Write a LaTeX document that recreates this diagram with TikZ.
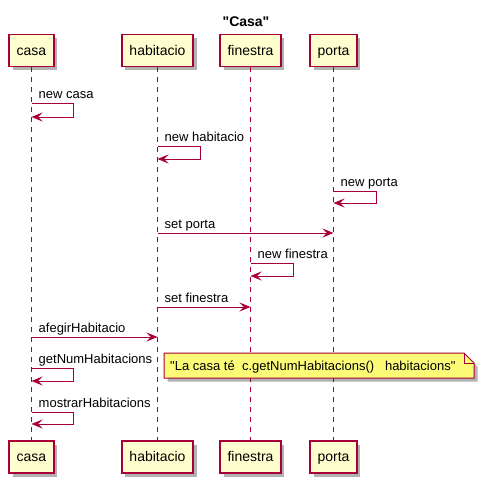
\documentclass[tikz,border=0pt]{standalone}
\usepackage{fontspec}
\setmainfont{Liberation Sans}[Ligatures=TeXOff]
\usetikzlibrary{arrows.meta,shadows}

\definecolor{umlred}{HTML}{A80036}
\definecolor{umlbox}{HTML}{FEFECE}
\definecolor{umlnote}{HTML}{FBFB77}

\begin{document}
\begin{tikzpicture}[x=1pt,y=-1pt,
  actor/.style={draw=umlred,line width=1.5pt,fill=umlbox,minimum height=32pt,
    inner xsep=7.5pt,inner ysep=0pt,text height=11pt,text depth=2pt,
    font=\fontsize{14}{16}\selectfont,
    drop shadow={shadow xshift=3.5pt,shadow yshift=-3.5pt,fill=black,opacity=.3}},
  lifeline/.style={umlred,line width=1pt,dash pattern=on 5pt off 5pt},
  msg/.style={umlred,line width=1pt,-{Stealth[length=11pt,width=9pt,inset=4.5pt]}},
  lbl/.style={anchor=base west,inner sep=0pt,xshift=7pt,yshift=5pt,
    font=\fontsize{13}{15}\selectfont},
  notebox/.style={draw=umlred,line width=1pt,fill=umlnote,
    drop shadow={shadow xshift=3.5pt,shadow yshift=-3.5pt,fill=black,opacity=.3}}]
  \useasboundingbox (0,0) rectangle (485,482);
  % 标题
  \node[font=\bfseries\fontsize{14}{16}\selectfont,anchor=base] (titol) at (246,26) {"Casa"};
  % 上下两排参与者
  \node[actor] (casa) at (31.5,50.5) {casa};
  \node[actor] (habitacio) at (157.5,50.5) {habitacio};
  \node[actor] (finestra) at (250.5,50.5) {finestra};
  \node[actor] (porta) at (333.5,50.5) {porta};
  \node[actor] (casa2) at (31.5,457) {casa};
  \node[actor] (habitacio2) at (157.5,457) {habitacio};
  \node[actor] (finestra2) at (250.5,457) {finestra};
  \node[actor] (porta2) at (333.5,457) {porta};
  % 生命线
  \draw[lifeline] (casa) -- (casa2);
  \draw[lifeline] (habitacio) -- (habitacio2);
  \draw[lifeline] (finestra) -- (finestra2);
  \draw[lifeline] (porta) -- (porta2);
  % 消息的端点
  \coordinate (a1) at (casa |- 0,103);      \coordinate (b1) at (casa |- 0,117);
  \coordinate (a2) at (habitacio |- 0,146); \coordinate (b2) at (habitacio |- 0,159);
  \coordinate (a3) at (porta |- 0,191);     \coordinate (b3) at (porta |- 0,203);
  \coordinate (a4) at (habitacio |- 0,233); \coordinate (b4) at (porta |- 0,233);
  \coordinate (a5) at (finestra |- 0,263);  \coordinate (b5) at (finestra |- 0,276);
  \coordinate (a6) at (habitacio |- 0,307); \coordinate (b6) at (finestra |- 0,307);
  \coordinate (a7) at (casa |- 0,337);      \coordinate (b7) at (habitacio |- 0,337);
  \coordinate (a8) at (casa |- 0,368);      \coordinate (b8) at (casa |- 0,381);
  \coordinate (a9) at (casa |- 0,412);      \coordinate (b9) at (casa |- 0,424);
  % 绘制消息
  \draw[msg] (a1) -- ++(42,0) |- (b1);
  \draw[msg] (a2) -- ++(43,0) |- (b2);
  \draw[msg] (a3) -- ++(43,0) |- (b3);
  \draw[msg] (a4) -- (b4);
  \draw[msg] (a5) -- ++(43,0) |- (b5);
  \draw[msg] (a6) -- (b6);
  \draw[msg] (a7) -- (b7);
  \draw[msg] (a8) -- ++(42,0) |- (b8);
  \draw[msg] (a9) -- ++(42,0) |- (b9);
  % 消息的标记
  \node[lbl] (t1) at (a1) {new casa};
  \node[lbl] (t2) at (a2) {new habitacio};
  \node[lbl] (t3) at (a3) {new porta};
  \node[lbl] (t4) at (a4) {set porta};
  \node[lbl] (t5) at (a5) {new finestra};
  \node[lbl] (t6) at (a6) {set finestra};
  \node[lbl] (t7) at (a7) {afegirHabitacio};
  \node[lbl] (t8) at (a8) {getNumHabitacions};
  \node[lbl] (t9) at (a9) {mostrarHabitacions};
  % 注释
  \coordinate (n1) at (164,353);
  \coordinate (n2) at (464,353);
  \coordinate (n3) at (474,363);
  \coordinate (n4) at (474,378);
  \coordinate (n5) at (164,378);
  \coordinate (n6) at (464,363);
  \draw[notebox] (n1) -- (n2) -- (n3) -- (n4) -- (n5) -- cycle;
  \draw[umlred,line width=1pt] (n2) -- (n6) -- (n3);
  \node[lbl,xshift=-1pt,yshift=-5pt] (nota) at (n1 |- 0,370)
    {"La casa té~~c.getNumHabitacions()~~~habitacions"};
\end{tikzpicture}
\end{document}
